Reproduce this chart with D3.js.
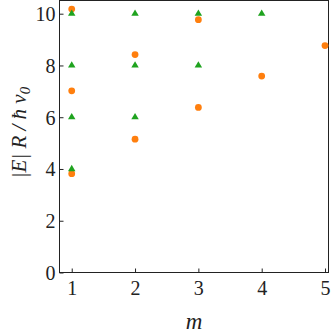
<!DOCTYPE html>
<html>
<head>
<meta charset="utf-8">
<script src="https://cdn.jsdelivr.net/npm/d3@7"></script>
<style>
	body { margin: 0; background: #fff; }
	svg { display: block; }
</style>
</head>
<body>
<div id="chart"></div>
<script>
// orange circles
var circleM = [1, 1, 1, 2, 2, 3, 3, 4, 5];
var circleE = [3.82, 7.02, 10.18, 5.15, 8.42, 6.38, 9.77, 7.59, 8.77];
// green triangles
var triM = [1, 1, 1, 1, 2, 2, 2, 3, 3, 4];
var triE = [4, 6, 8, 10, 6, 8, 10, 8, 10, 10];

var xTicks = [1, 2, 3, 4, 5];
var yTicks = [0, 2, 4, 6, 8, 10];

var width = 332, height = 335;
// plot frame (note: "top" is a reserved window property)
var pLeft = 59.5, pRight = 328.5, pTop = 0.5, pBottom = 272.5;
var serif = "'Liberation Serif'";

var svg = d3.select("#chart")
	.append("svg")
	.attr("width", width)
	.attr("height", height);

var x = d3.scaleLinear().domain([0.807, 5.055]).range([pLeft, pRight]);
var y = d3.scaleLinear().domain([0, 10.51]).range([pBottom, pTop]);

// frame
svg.append("rect")
	.attr("x", pLeft).attr("y", pTop)
	.attr("width", pRight - pLeft).attr("height", pBottom - pTop)
	.style("fill", "none")
	.style("stroke", "#222")
	.style("stroke-width", 1);

// axes, ticks pointing inward
var xAxis = svg.append("g")
	.attr("transform", "translate(0," + pBottom + ")")
	.call(d3.axisBottom(x).tickValues(xTicks).tickSize(-4).tickPadding(8).tickFormat(d3.format("d")));
var yAxis = svg.append("g")
	.attr("transform", "translate(" + pLeft + ",0)")
	.call(d3.axisLeft(y).tickValues(yTicks).tickSize(-4).tickPadding(4).tickFormat(d3.format("d")));

[xAxis, yAxis].forEach(function(a) {
	a.attr("font-family", null).attr("font-size", null);
	a.select(".domain").remove();
	a.selectAll(".tick line").style("stroke", "#222");
	a.selectAll(".tick text")
		.style("font-family", serif)
		.style("font-size", "20px")
		.style("fill", "#222");
});
yAxis.selectAll(".tick text").attr("dy", "0.34em");

// circles
svg.append("g").selectAll("circle")
	.data(circleM)
	.enter().append("circle")
	.attr("cx", function(d) { return x(d); })
	.attr("cy", function(d, i) { return y(circleE[i]); })
	.attr("r", 3.4)
	.style("fill", "#ff7f0e");

// triangles
var tri = d3.symbol().type(d3.symbolTriangle).size(24);
svg.append("g").selectAll("path")
	.data(triM)
	.enter().append("path")
	.attr("d", tri)
	.attr("transform", function(d, i) { return "translate(" + x(d) + "," + y(triE[i]) + ")"; })
	.style("fill", "#1fa31f");

// axis labels
svg.append("text")
	.attr("x", (pLeft + pRight) / 2)
	.attr("y", 329)
	.attr("text-anchor", "middle")
	.style("font-family", serif)
	.style("font-size", "23px")
	.style("font-style", "italic")
	.style("fill", "#222")
	.text("m");

var yl = svg.append("text")
	.attr("transform", "translate(26," + ((pTop + pBottom) / 2 - 4) + ") rotate(-90)")
	.attr("text-anchor", "middle")
	.style("font-family", serif)
	.style("font-size", "21px")
	.style("font-style", "italic")
	.style("fill", "#222");
yl.append("tspan").text("|E| R / ħ v");
yl.append("tspan").attr("dy", 4).style("font-size", "15px").text("0");
</script>
</body>
</html>
